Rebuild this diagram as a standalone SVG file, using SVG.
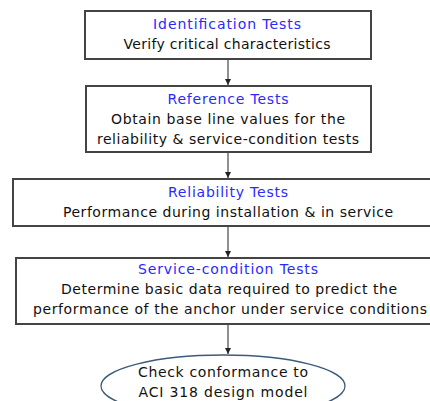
<svg xmlns="http://www.w3.org/2000/svg" width="430" height="401" viewBox="0 0 430 401">
  <defs>
    <marker id="arrow" viewBox="0 0 6 6" refX="6" refY="3" markerWidth="6" markerHeight="6" markerUnits="userSpaceOnUse" orient="auto">
      <path d="M0,0 L6,3 L0,6 Z" fill="#222"/>
    </marker>
  </defs>
  <style>
    .box { fill: #ffffff; stroke: #444444; stroke-width: 2; }
    .term { fill: #ffffff; stroke: #3c5a7a; stroke-width: 1.3; }
    .title { font-family: "DejaVu Sans", sans-serif; font-size: 14px; fill: #2a2aff; text-anchor: middle; }
    .body { font-family: "DejaVu Sans", sans-serif; font-size: 14px; fill: #111111; text-anchor: middle; }
    .link { stroke: #222222; stroke-width: 1; fill: none; marker-end: url(#arrow); }
  </style>
  <rect width="430" height="401" fill="#ffffff"/>

  <g id="connectors">
    <line class="link" x1="228" y1="59" x2="228" y2="85"/>
    <line class="link" x1="228" y1="152" x2="228" y2="178"/>
    <line class="link" x1="228" y1="226" x2="228" y2="257"/>
    <line class="link" x1="228" y1="324" x2="228" y2="354"/>
  </g>

  <g id="identification">
    <rect class="box" x="85" y="11" width="286" height="48"/>
    <text class="title" x="227" y="29" textLength="148" lengthAdjust="spacing">Identification Tests</text>
    <text class="body" x="227" y="49" textLength="207" lengthAdjust="spacing">Verify critical characteristics</text>
  </g>

  <g id="reference">
    <rect class="box" x="86" y="86" width="285" height="66"/>
    <text class="title" x="228" y="104" textLength="121" lengthAdjust="spacing">Reference Tests</text>
    <text class="body" x="228" y="124" textLength="234" lengthAdjust="spacing">Obtain base line values for the</text>
    <text class="body" x="228" y="144" textLength="262" lengthAdjust="spacing">reliability &amp; service-condition tests</text>
  </g>

  <g id="reliability">
    <rect class="box" x="13" y="179" width="430" height="47"/>
    <text class="title" x="228" y="197" textLength="120" lengthAdjust="spacing">Reliability Tests</text>
    <text class="body" x="228" y="217" textLength="330" lengthAdjust="spacing">Performance during installation &amp; in service</text>
  </g>

  <g id="service-condition">
    <rect class="box" x="16" y="258" width="424" height="66"/>
    <text class="title" x="228" y="274" textLength="180" lengthAdjust="spacing">Service-condition Tests</text>
    <text class="body" x="229" y="294" textLength="336" lengthAdjust="spacing">Determine basic data required to predict the</text>
    <text class="body" x="230" y="314" textLength="394" lengthAdjust="spacing">performance of the anchor under service conditions</text>
  </g>

  <g id="conformance">
    <ellipse class="term" cx="223" cy="386" rx="122" ry="31"/>
    <text class="body" x="223" y="377" textLength="170" lengthAdjust="spacing">Check conformance to</text>
    <text class="body" x="223" y="397" textLength="169" lengthAdjust="spacing">ACI 318 design model</text>
  </g>
</svg>
